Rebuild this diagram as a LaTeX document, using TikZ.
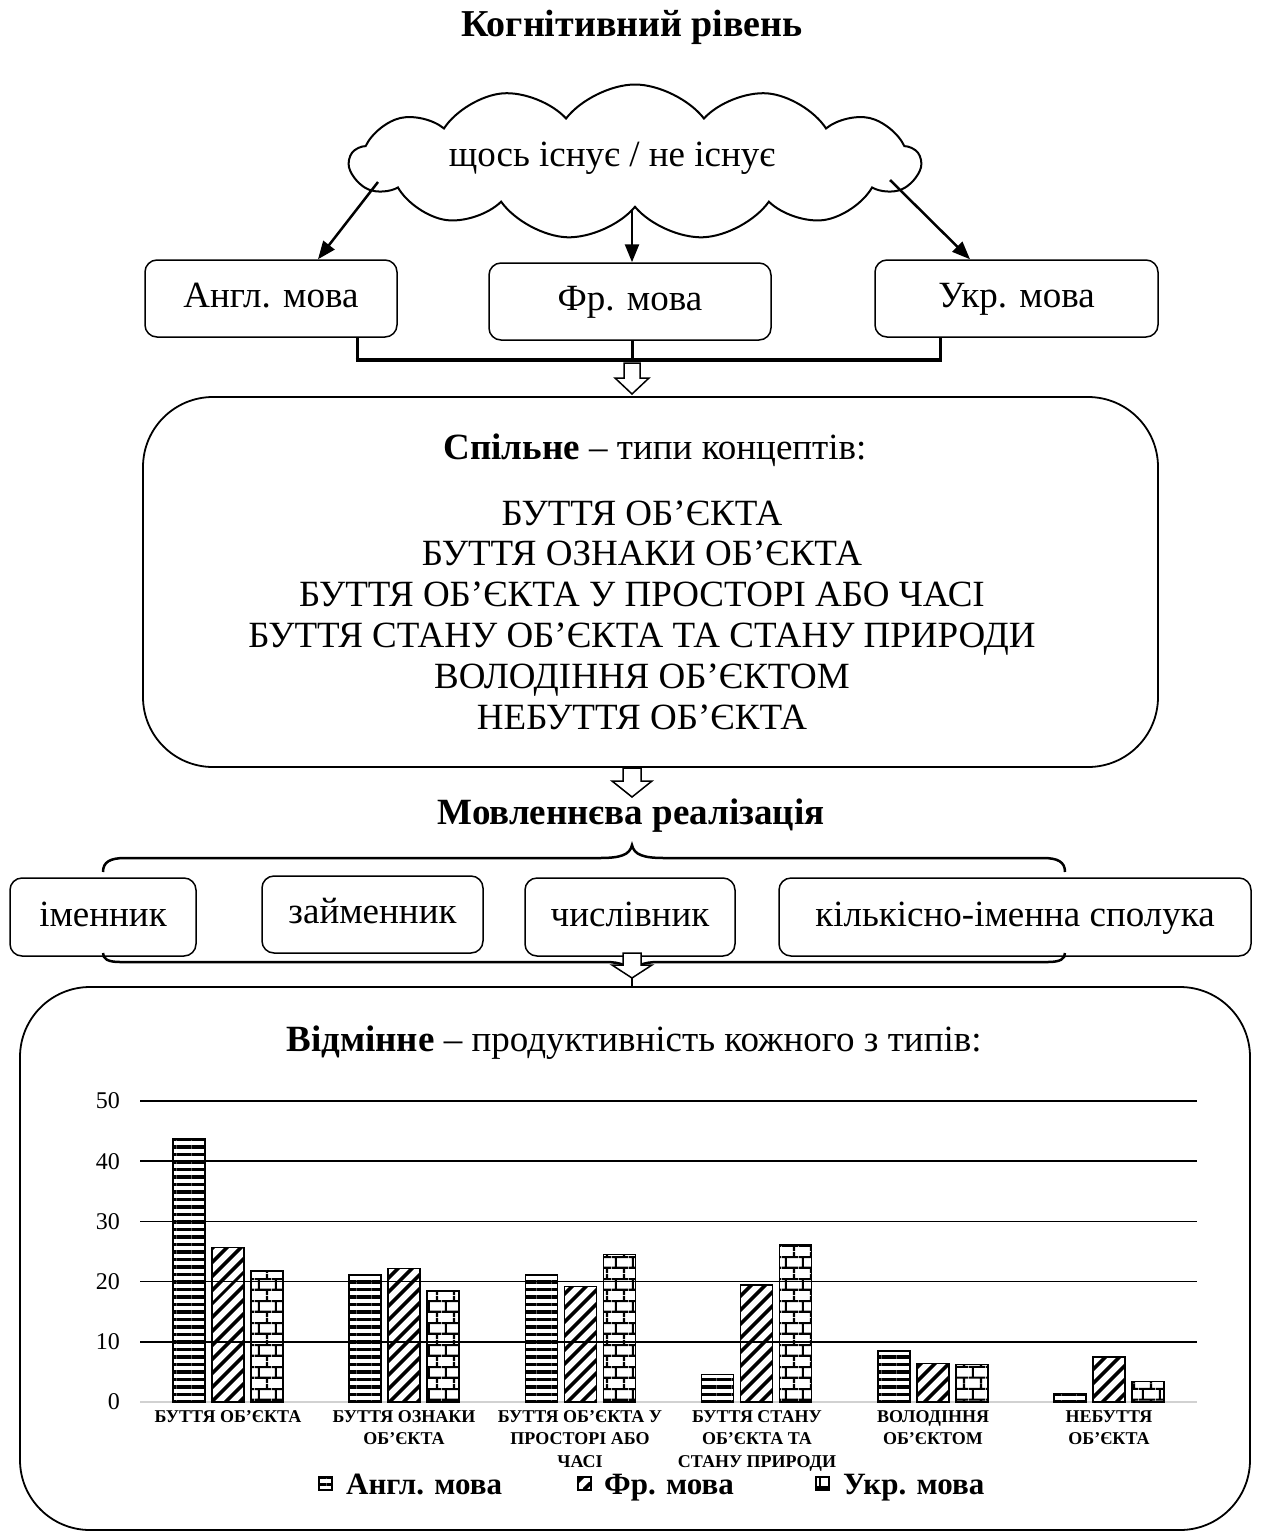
\documentclass[tikz,border=0pt]{standalone}
\usepackage{fontspec}
\setmainfont{Liberation Serif}
\usetikzlibrary{shapes.symbols,patterns,patterns.meta,arrows.meta}
\pgfdeclarepatternformonly{ukrbricks}{\pgfqpoint{0pt}{0pt}}{\pgfqpoint{17pt}{22pt}}{\pgfqpoint{17pt}{22pt}}{%
 \pgfsetlinewidth{2.2pt}%
 \pgfpathmoveto{\pgfqpoint{0pt}{5.5pt}}\pgfpathlineto{\pgfqpoint{17pt}{5.5pt}}%
 \pgfpathmoveto{\pgfqpoint{0pt}{16.5pt}}\pgfpathlineto{\pgfqpoint{17pt}{16.5pt}}%
 \pgfpathmoveto{\pgfqpoint{4pt}{5.5pt}}\pgfpathlineto{\pgfqpoint{4pt}{16.5pt}}%
 \pgfpathmoveto{\pgfqpoint{12.5pt}{16.5pt}}\pgfpathlineto{\pgfqpoint{12.5pt}{22pt}}%
 \pgfpathmoveto{\pgfqpoint{12.5pt}{0pt}}\pgfpathlineto{\pgfqpoint{12.5pt}{5.5pt}}%
 \pgfusepath{stroke}}
\tikzset{
  lbox/.style={draw, line width=1.5pt, rounded corners=12pt, inner sep=0pt, text height=26pt, text depth=8pt, font=\fontsize{37}{42}\selectfont},
  bigbox/.style={draw, line width=1.8pt, rounded corners=70pt, inner sep=0pt},
  maintext/.style={font=\fontsize{37}{42}\selectfont, inner sep=0pt},
  lineitem/.style={maintext, anchor=base},
  heading/.style={font=\fontsize{37}{42}\selectfont\bfseries, inner sep=0pt},
  catlabel/.style={font=\fontsize{18}{22.5}\selectfont\bfseries, align=center, inner sep=0pt, anchor=north},
  axlabel/.style={font=\fontsize{24}{26}\selectfont, inner sep=0pt, anchor=east},
  legtext/.style={font=\fontsize{31}{36}\selectfont\bfseries, inner sep=0pt, anchor=base west},
  cloudarrow/.style={line width=2.5pt, -{Triangle[length=18pt,width=14pt]}},
  hollow/.style={draw, line width=1.5pt, fill=white},
  gridline/.style={line width=1.6pt},
  barbox/.style={line width=1.6pt},
  angpat/.style={pattern={Lines[angle=0,distance=7.5pt,line width=3.3pt]}},
  frpat/.style={pattern={Lines[angle=45,distance=10.5pt,line width=4pt]}},
  ukrpat/.style={pattern=ukrbricks},
}
\begin{document}
\begin{tikzpicture}[x=1pt,y=-1pt]
\useasboundingbox (0,0) rectangle (1261,1537);

% Title
\node[heading, font=\fontsize{38}{44}\selectfont\bfseries] (title) at (632,27) {Когнітивний рівень};

% Cloud
\node[cloud, draw, line width=2pt, cloud puffs=13, cloud puff arc=105, cloud ignores aspect, minimum width=570pt, minimum height=155pt] (cloud) at (635,162) {};
\node[maintext] (cloudtext) at (612,158) {щось існує / не існує};

% Language boxes
\node[lbox, minimum width=252pt, minimum height=77pt] (angl) at (271,298.5) {Англ. мова};
\node[lbox, minimum width=282pt, minimum height=77pt] (fr) at (630,301.5) {Фр. мова};
\node[lbox, minimum width=283pt, minimum height=77pt] (ukr) at (1016.5,298.5) {Укр. мова};

% Arrows from cloud
\coordinate (c1) at (378,182);
\coordinate (c2) at (632,210);
\coordinate (c3) at (890,180);
\coordinate (e1) at (318,0);
\coordinate (e3) at (970,0);
\draw[cloudarrow] (c1) -- (angl.north -| e1);
\draw[cloudarrow] (c2) -- (fr.north -| c2);
\draw[cloudarrow] (c3) -- (ukr.north -| e3);

% Bracket joining the boxes
\coordinate (xl) at (357,0);
\coordinate (xm) at (632,0);
\coordinate (xr) at (940,0);
\coordinate (jl) at (357,360);
\coordinate (jm) at (632,360);
\coordinate (jr) at (940,360);
\draw[line width=3pt] (angl.south -| xl) -- (jl);
\draw[line width=3pt] (fr.south -| xm) -- (jm);
\draw[line width=3pt] (ukr.south -| xr) -- (jr);
\draw[line width=4.5pt] ([xshift=-1.5pt]jl) -- ([xshift=1.5pt]jr);

% Common box
\node[bigbox, minimum width=1015pt, minimum height=370pt] (common) at (650.5,582) {};
\node[maintext] (commonhead) at (655,450) {\textbf{Спільне} – типи концептів:};
\node[lineitem] (t1) at (642,525) {БУТТЯ ОБ’ЄКТА};
\node[lineitem] (t2) at (642,565) {БУТТЯ ОЗНАКИ ОБ’ЄКТА};
\node[lineitem] (t3) at (642,606) {БУТТЯ ОБ’ЄКТА У ПРОСТОРІ АБО ЧАСІ};
\node[lineitem] (t4) at (642,647) {БУТТЯ СТАНУ ОБ’ЄКТА ТА СТАНУ ПРИРОДИ};
\node[lineitem] (t5) at (642,688) {ВОЛОДІННЯ ОБ’ЄКТОМ};
\node[lineitem] (t6) at (642,729) {НЕБУТТЯ ОБ’ЄКТА};

% hollow arrow 1
\draw[hollow] (624,363) -- (640,363) -- (640,378) -- (649,378) -- (632,394) -- (615,378) -- (624,378) -- cycle;

% hollow arrow 2
\draw[hollow] (623,768) -- (641,768) -- (641,781) -- (652,781) -- (632,797) -- (612,781) -- (623,781) -- cycle;

% Speech realisation
\node[heading] (speech) at (631,816) {Мовленнєва реалізація};

% top brace
\draw[line width=2.5pt] (103,872) .. controls (103,862) and (110,858) .. (125,858) -- (600,858)
   .. controls (620,858) and (630,855) .. (632,845) .. controls (634,855) and (644,858) .. (664,858)
   -- (1043,858) .. controls (1058,858) and (1065,862) .. (1065,872);

% POS boxes
\node[lbox, minimum width=186pt, minimum height=78pt] (n1) at (103,917) {іменник};
\node[lbox, minimum width=221pt, minimum height=77pt] (n2) at (372.5,914.5) {займенник};
\node[lbox, minimum width=210pt, minimum height=78pt] (n3) at (630,917) {числівник};
\node[lbox, minimum width=472pt, minimum height=78pt] (n4) at (1015,917) {кількісно-іменна сполука};

% bottom brace
\draw[line width=2.5pt] (103,953) .. controls (103,959) and (108,962) .. (120,962) -- (605,962)
   .. controls (622,962) and (630,966) .. (632,976) .. controls (634,966) and (642,962) .. (659,962)
   -- (1048,962) .. controls (1060,962) and (1065,959) .. (1065,953);

% Different box
\node[bigbox, minimum width=1230pt, minimum height=543pt] (diff) at (635,1258.5) {};
\draw[line width=1.5pt] (632,976) -- (diff.north -| xm);
\draw[hollow] (623,953) -- (641,953) -- (641,965) -- (652,965) -- (632,978) -- (612,965) -- (623,965) -- cycle;

\node[maintext] (diffhead) at (634,1043) {\textbf{Відмінне} – продуктивність кожного з типів:};

% Chart grid
\foreach \v/\yy in {50/1101,40/1161.2,30/1221.4,20/1281.6,10/1341.8}{
  \draw[gridline] (140,\yy) -- (1197,\yy);
  \node[axlabel] at (120,\yy) {\v};
}
\draw[line width=2pt, black!18] (140,1402) -- (1197,1402);
\node[axlabel] at (120,1402) {0};

% Bars
\foreach \i/\a/\f/\u in {0/43.7/25.7/21.8, 1/21.1/22.2/18.4, 2/21.1/19.2/24.5, 3/4.6/19.4/26.1, 4/8.5/6.4/6.2, 5/1.4/7.5/3.4}{
  \pgfmathsetmacro{\cx}{140+176.17*(\i+0.5)}
  \draw[barbox, angpat] (\cx-55,1402) rectangle (\cx-23,1402-6.02*\a);
  \draw[barbox, frpat] (\cx-16,1402) rectangle (\cx+16,1402-6.02*\f);
  \draw[barbox, ukrpat] (\cx+23,1402) rectangle (\cx+55,1402-6.02*\u);
}

% Category labels
\node[catlabel] (k1) at (228,1410) {БУТТЯ ОБ'ЄКТА};
\node[catlabel] (k2) at (404,1410) {БУТТЯ ОЗНАКИ\\ОБ’ЄКТА};
\node[catlabel] (k3) at (580,1410) {БУТТЯ ОБ’ЄКТА У\\ПРОСТОРІ АБО\\ЧАСІ};
\node[catlabel] (k4) at (757,1410) {БУТТЯ СТАНУ\\ОБ’ЄКТА ТА\\СТАНУ ПРИРОДИ};
\node[catlabel] (k5) at (933,1410) {ВОЛОДІННЯ\\ОБ’ЄКТОМ};
\node[catlabel] (k6) at (1109,1410) {НЕБУТТЯ\\ОБ’ЄКТА};

% Legend
\draw[line width=1.2pt, angpat] (319,1477) rectangle (332,1490);
\node[legtext] (l1) at (346,1494) {Англ. мова};
\draw[line width=1.2pt, frpat] (578,1477) rectangle (591,1490);
\node[legtext] (l2) at (604,1494) {Фр. мова};
\draw[line width=1.2pt, ukrpat] (816,1477) rectangle (829,1490);
\node[legtext] (l3) at (843,1494) {Укр. мова};
\end{tikzpicture}
\end{document}
